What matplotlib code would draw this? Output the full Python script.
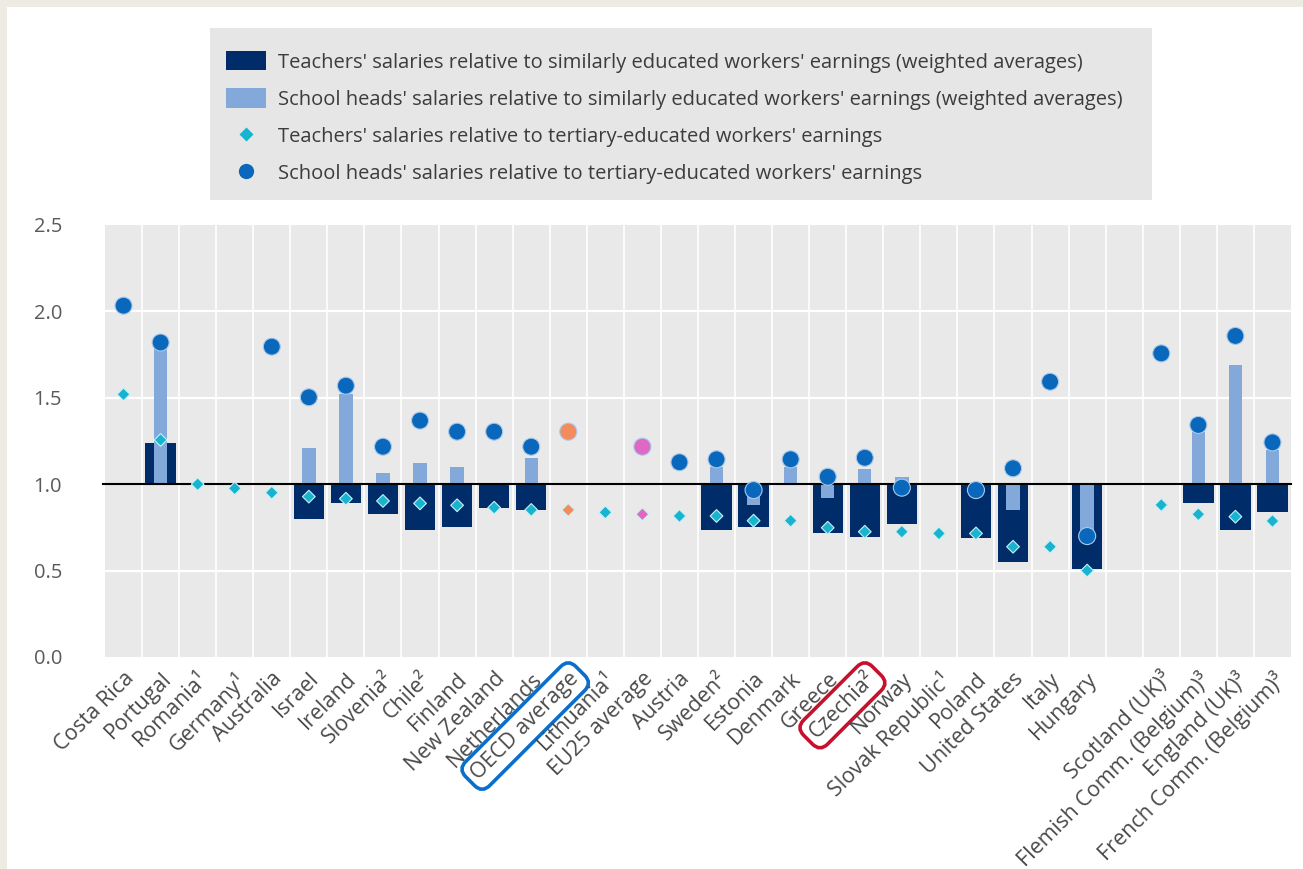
import numpy as np
import matplotlib
matplotlib.use("Agg")
import matplotlib.pyplot as plt
from matplotlib.patches import Patch, Rectangle
from matplotlib.lines import Line2D

plt.rcParams['font.family'] = ['Open Sans', 'DejaVu Sans']

nan = np.nan
categories = ["Costa Rica", "Portugal", "Romania¹", "Germany¹", "Australia", "Israel",
              "Ireland", "Slovenia²", "Chile²", "Finland", "New Zealand", "Netherlands",
              "OECD average", "Lithuania¹", "EU25 average", "Austria", "Sweden²", "Estonia",
              "Denmark", "Greece", "Czechia²", "Norway", "Slovak Republic¹", "Poland",
              "United States", "Italy", "Hungary", "", "Scotland (UK)³",
              "Flemish Comm. (Belgium)³", "England (UK)³", "French Comm. (Belgium)³"]

teachers_similar = [nan, 1.24, nan, nan, nan, 0.80, 0.89, 0.83, 0.735, 0.75, 0.865, 0.85,
                    nan, nan, nan, nan, 0.735, 0.75, nan, 0.715, 0.695, 0.77, nan, 0.687,
                    0.55, nan, 0.51, nan, nan, 0.89, 0.735, 0.84]
heads_similar = [nan, 1.80, nan, nan, nan, 1.21, 1.52, 1.065, 1.12, 1.10, nan, 1.15,
                 nan, nan, nan, nan, 1.10, 0.88, 1.10, 0.92, 1.09, 1.04, nan, nan,
                 0.85, nan, 0.70, nan, nan, 1.30, 1.69, 1.20]
teachers_tertiary = [1.52, 1.256, 1.00, 0.976, 0.951, 0.928, 0.916, 0.903, 0.889, 0.878,
                     0.864, 0.851, 0.851, 0.837, 0.826, 0.816, 0.816, 0.789, 0.789, 0.748,
                     0.725, 0.725, 0.715, 0.715, 0.638, 0.638, 0.50, nan, 0.88, 0.826,
                     0.812, 0.787]
heads_tertiary = [2.033, 1.82, nan, nan, 1.796, 1.503, 1.57, 1.217, 1.368, 1.304, 1.304,
                  1.217, 1.304, nan, 1.217, 1.127, 1.144, 0.966, 1.144, 1.043, 1.153, 0.98,
                  nan, 0.966, 1.092, 1.593, 0.70, nan, 1.757, 1.343, 1.858, 1.242]

legend_labels = [
    "Teachers' salaries relative to similarly educated workers' earnings (weighted averages)",
    "School heads' salaries relative to similarly educated workers' earnings (weighted averages)",
    "Teachers' salaries relative to tertiary-educated workers' earnings",
    "School heads' salaries relative to tertiary-educated workers' earnings",
]

C_DARK = '#002D6A'
C_LIGHT = '#82A9DA'
C_DIAM = '#18B4CF'
C_CIRC = '#0A68BC'
C_OECD = '#F28C5C'
C_EU = '#DE68C2'
BG = '#E9E9E9'

n = len(categories)
x = np.arange(n)
diam_colors = [C_DIAM] * n
circ_colors = [C_CIRC] * n
i_oecd = categories.index("OECD average")
i_eu = categories.index("EU25 average")
diam_colors[i_oecd] = C_OECD
circ_colors[i_oecd] = C_OECD
diam_colors[i_eu] = C_EU
circ_colors[i_eu] = C_EU

W, H = 1303, 869
fig = plt.figure(figsize=(W / 100, H / 100), dpi=100)
fig.patch.set_facecolor('white')
fig.add_artist(Rectangle((0, 0), 7 / W, 1, transform=fig.transFigure,
                         facecolor='#EEEBE2', edgecolor='none', zorder=0))
fig.add_artist(Rectangle((0, 1 - 7 / H), 1, 7 / H, transform=fig.transFigure,
                         facecolor='#EEEBE2', edgecolor='none', zorder=0))
fig.add_artist(Rectangle((210 / W, 1 - 200 / H), (1152 - 210) / W, (200 - 28) / H,
                         transform=fig.transFigure, facecolor='#E6E6E6',
                         edgecolor='none', zorder=0.5))

ax = fig.add_axes([105 / W, 1 - 657 / H, (1291 - 105) / W, (657 - 225) / H])
ax.set_facecolor(BG)
ax.set_xlim(-0.5, n - 0.5)
ax.set_ylim(0, 2.5)

for yy in [0.5, 1.5, 2.0]:
    ax.axhline(yy, color='white', lw=1.6, zorder=1)
for xb in np.arange(0.5, n - 0.5, 1):
    ax.axvline(xb, color='white', lw=1.2, zorder=1)

ts = np.array(teachers_similar)
hs = np.array(heads_similar)
ax.bar(x, ts - 1, bottom=1, width=0.82, color=C_DARK, zorder=2)
ax.bar(x, hs - 1, bottom=1, width=0.36, color=C_LIGHT, zorder=3)
ax.plot([-0.55, n - 0.5], [1, 1], color='black', lw=1.5, zorder=4, clip_on=False)

ax.scatter(x, teachers_tertiary, marker='D', s=42, c=diam_colors,
           edgecolors='#CBEFF6', linewidths=0.8, zorder=5)
ax.scatter(x, heads_tertiary, marker='o', s=150, c=circ_colors,
           edgecolors='#A9C8EA', linewidths=0.8, zorder=6)

for s in ax.spines.values():
    s.set_visible(False)
ax.set_yticks([0, 0.5, 1.0, 1.5, 2.0, 2.5])
ax.set_yticklabels(['0.0', '0.5', '1.0', '1.5', '2.0', '2.5'])
ax.tick_params(axis='y', length=0, pad=31, labelsize=14.5, labelcolor='#5A5A5A')
ax.set_xticks(x)
ax.set_xticklabels(categories, rotation=45, ha='right', rotation_mode='anchor')
ax.tick_params(axis='x', length=0, pad=8, labelsize=15.5, labelcolor='#4A4A4A')
for lab in ax.get_xticklabels():
    if lab.get_text() == "OECD average":
        lab.set_bbox(dict(boxstyle='round,pad=0.3,rounding_size=0.5', fc='none',
                          ec='#0A6FCC', lw=2.6))
    elif lab.get_text().startswith("Czechia"):
        lab.set_bbox(dict(boxstyle='round,pad=0.3,rounding_size=0.5', fc='none',
                          ec='#C8102E', lw=2.6))

handles = [
    Patch(facecolor=C_DARK, edgecolor='none'),
    Patch(facecolor=C_LIGHT, edgecolor='none'),
    Line2D([], [], marker='D', color='none', markerfacecolor=C_DIAM,
           markeredgecolor='none', markersize=7),
    Line2D([], [], marker='o', color='none', markerfacecolor=C_CIRC,
           markeredgecolor='none', markersize=11),
]
leg = fig.legend(handles, legend_labels, loc='upper left',
                 bbox_to_anchor=(210 / W, 1 - 35 / H), frameon=False,
                 fontsize=14.5, handlelength=2.0, handleheight=1.1,
                 handletextpad=0.6, labelspacing=0.78, borderpad=0.8,
                 borderaxespad=0)
for t in leg.get_texts():
    t.set_color('#3C3C3C')

fig.savefig('out.png', dpi=100)
